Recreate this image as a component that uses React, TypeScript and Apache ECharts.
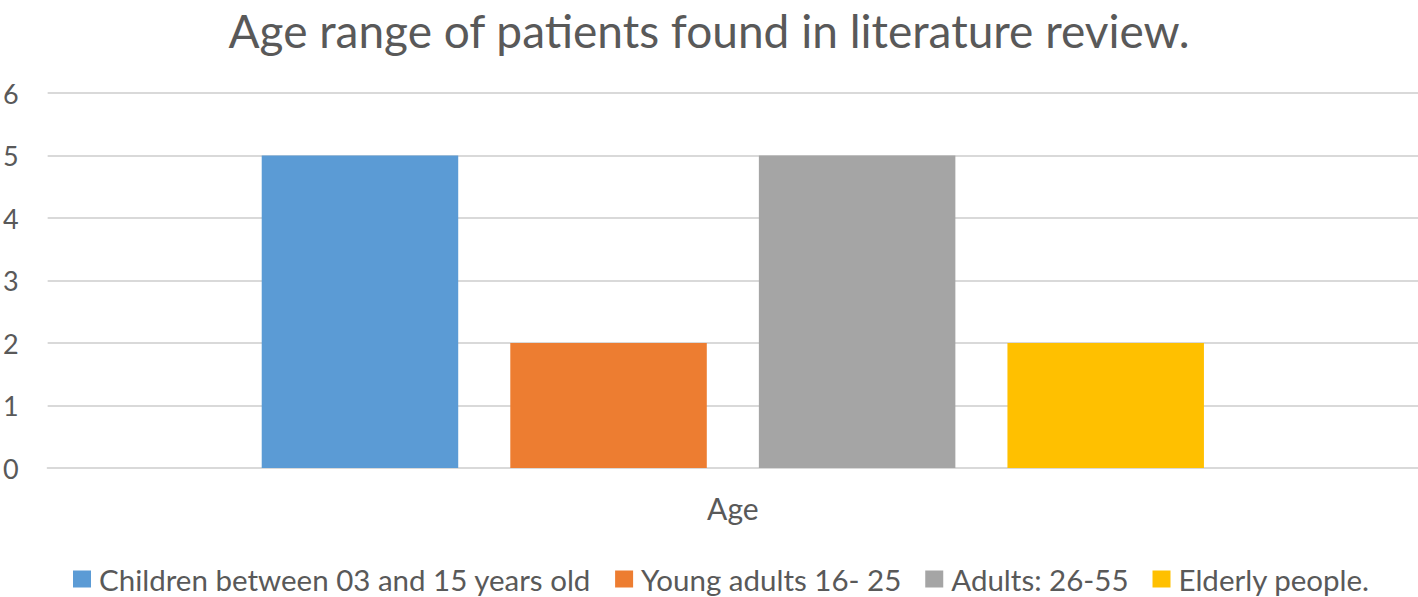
import React, { useEffect, useRef } from "react";
import * as echarts from "echarts";

const categories = ["Age"];
const seriesNames = [
  "Children between 03 and 15 years old",
  "Young adults 16- 25",
  "Adults: 26-55",
  "Elderly people.",
];
const seriesValues = [[5], [2], [5], [2]];
const seriesColors = ["#5B9BD5", "#ED7D31", "#A5A5A5", "#FFC000"];
const yTicks = { min: 0, max: 6, interval: 1 };

const FONT = "Lato, 'Open Sans', sans-serif";

export default function App() {
  const ref = useRef<HTMLDivElement>(null);
  useEffect(() => {
    document.body.style.margin = "0";
    const chart = echarts.init(ref.current!, null, { renderer: "svg" });
    chart.setOption({
      animation: false,
      backgroundColor: "#ffffff",
      textStyle: { fontFamily: FONT, color: "#595959" },
      title: {
        text: "Age range of patients found in literature review.",
        left: "center",
        top: 2,
        padding: 0,
        textStyle: {
          fontFamily: FONT,
          fontSize: 46,
          lineHeight: 56,
          fontWeight: "normal",
          color: "#595959",
        },
      },
      legend: {
        top: 564,
        left: 73,
        padding: 0,
        itemWidth: 18,
        itemHeight: 17,
        itemGap: 24,
        icon: "rect",
        textStyle: { fontFamily: FONT, fontSize: 29.5, color: "#595959", padding: [0, 0, 0, 3] },
        data: seriesNames,
      },
      grid: { left: 44, right: 0, top: 93, bottom: 129, containLabel: false },
      xAxis: {
        type: "category",
        data: categories,
        axisLine: { lineStyle: { color: "#d9d9d9", width: 2 } },
        axisTick: { show: false },
        axisLabel: { fontFamily: FONT, fontSize: 30, color: "#595959", margin: 25 },
      },
      yAxis: {
        type: "value",
        min: yTicks.min,
        max: yTicks.max,
        interval: yTicks.interval,
        axisLine: { show: false },
        axisTick: { show: false },
        splitLine: { lineStyle: { color: "#d9d9d9", width: 2 } },
        axisLabel: { fontFamily: FONT, fontSize: 27, color: "#595959", margin: 29 },
      },
      series: seriesNames.map((name, i) => ({
        name,
        type: "bar",
        data: seriesValues[i],
        barWidth: 196.5,
        barGap: "26.5%",
        itemStyle: { color: seriesColors[i] },
      })),
    });
    return () => chart.dispose();
  }, []);
  return <div ref={ref} style={{ width: 1418, height: 597 }} />;
}
